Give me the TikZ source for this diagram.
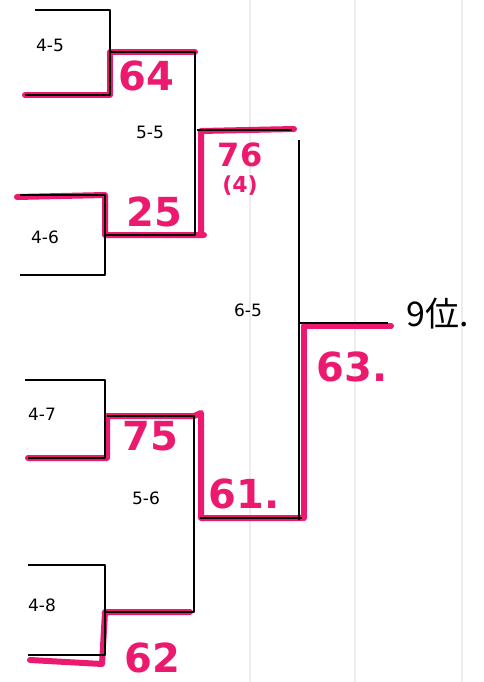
\documentclass[tikz,border=0pt]{standalone}
\usepackage{fontspec}
\setmainfont{DejaVu Sans}
\newfontfamily\cjkfont{Noto Sans CJK JP}
\usetikzlibrary{positioning}
\definecolor{marker}{HTML}{EC1A6E}
\tikzset{
  pen/.style={black,line width=1.3pt,line join=round},
  hilite/.style={marker,line width=6pt,line join=round,line cap=round},
  score/.style={marker,font=\fontsize{40}{40}\selectfont\bfseries,inner sep=0pt},
  tag/.style={black,font=\fontsize{17}{17}\selectfont,inner sep=0pt}
}
\begin{document}
\begin{tikzpicture}[x=1pt,y=-1pt]
\useasboundingbox[fill=white] (0,0) rectangle (483,682);
% faint grid of the printed sheet
\foreach \gx in {250,355,462}
  \draw[black!7,line width=1.2pt] (\gx,0) -- (\gx,682);
% corners of the first round
\coordinate (a1) at (35,10);   \coordinate (a2) at (110,10);
\coordinate (a3) at (110,95);  \coordinate (a4) at (25,95);
\coordinate (b1) at (20,195);  \coordinate (b2) at (105,195);
\coordinate (b3) at (105,275); \coordinate (b4) at (20,275);
\coordinate (c1) at (25,380);  \coordinate (c2) at (105,380);
\coordinate (c3) at (105,458); \coordinate (c4) at (28,458);
\coordinate (d1) at (28,565);  \coordinate (d2) at (105,565);
\coordinate (d3) at (105,655); \coordinate (d4) at (28,655);
% second round
\coordinate (e1) at (110,52);  \coordinate (e2) at (195,52);
\coordinate (e3) at (195,235); \coordinate (e4) at (105,235);
\coordinate (f1) at (107,416); \coordinate (f2) at (194,416);
\coordinate (f3) at (194,612); \coordinate (f4) at (105,612);
% third round and final
\coordinate (g1) at (197,130); \coordinate (g2) at (292,130);
\coordinate (h1) at (200,518); \coordinate (h2) at (302,518);
\coordinate (k1) at (299,140); \coordinate (k2) at (299,520);
\coordinate (k3) at (299,323); \coordinate (k4) at (388,323);
% winning paths
\draw[hilite] (a4) -- (a3) -- (e1) -- (e2);
\draw[hilite] (17,197) -- (b2) -- (e4) -- (204,235);
\draw[hilite] (201,235) -- (201,131) -- (294,129);
\draw[hilite] (c4) -- ++(79,0) |- (f2) -- (201,413) -- (201,518) -- (h2);
\draw[hilite] (30,660) -- (102,664) -- (f4) -- (190,612);
\draw[hilite] (391,326) -- (304,326) -- (304,518);
% pen lines
\draw[pen] (a1) -- (a2) -- (a3) -- (a4);
\draw[pen] (b1) -- (b2) -- (b3) -- (b4);
\draw[pen] (c1) -- (c2) -- (c3) -- (c4);
\draw[pen] (d1) -- (d2) -- (d3) -- (d4);
\draw[pen] (e1) -- (e2) -- (e3) -- (e4);
\draw[pen] (f1) -- (f2) -- (f3) -- (f4);
\draw[pen] (g1) -- (g2);
\draw[pen] (h1) -- (h2);
\draw[pen] (k1) -- (k2);
\draw[pen] (k3) -- (k4);
% match labels
\node[tag] (m45) at (50,45) {4-5};
\node[tag] (m46) at (45,237) {4-6};
\node[tag] (m47) at (42,414) {4-7};
\node[tag] (m48) at (42,605) {4-8};
\node[tag] (m55) at (150,132) {5-5};
\node[tag] (m56) at (146,498) {5-6};
\node[tag] (m65) at (248,310) {6-5};
% scores
\node[score,font=\fontsize{32}{32}\selectfont\bfseries] (s76) at (240,155) {76};
\node[score,font=\fontsize{22}{22}\selectfont\bfseries,below=8pt of s76] (s4) {(4)};
\node[score] (s64) at (146,76) {64};
\node[score] (s25) at (154,212) {25};
\node[score] (s75) at (150,436) {75};
\node[score] (s61) at (244,494) {61.};
\node[score] (s62) at (152,658) {62};
\node[score] (s63) at (352,367) {63.};
\node[black,font=\cjkfont\fontsize{34}{34}\selectfont,inner sep=0pt] (place) at (438,314) {9位.};
\end{tikzpicture}
\end{document}
